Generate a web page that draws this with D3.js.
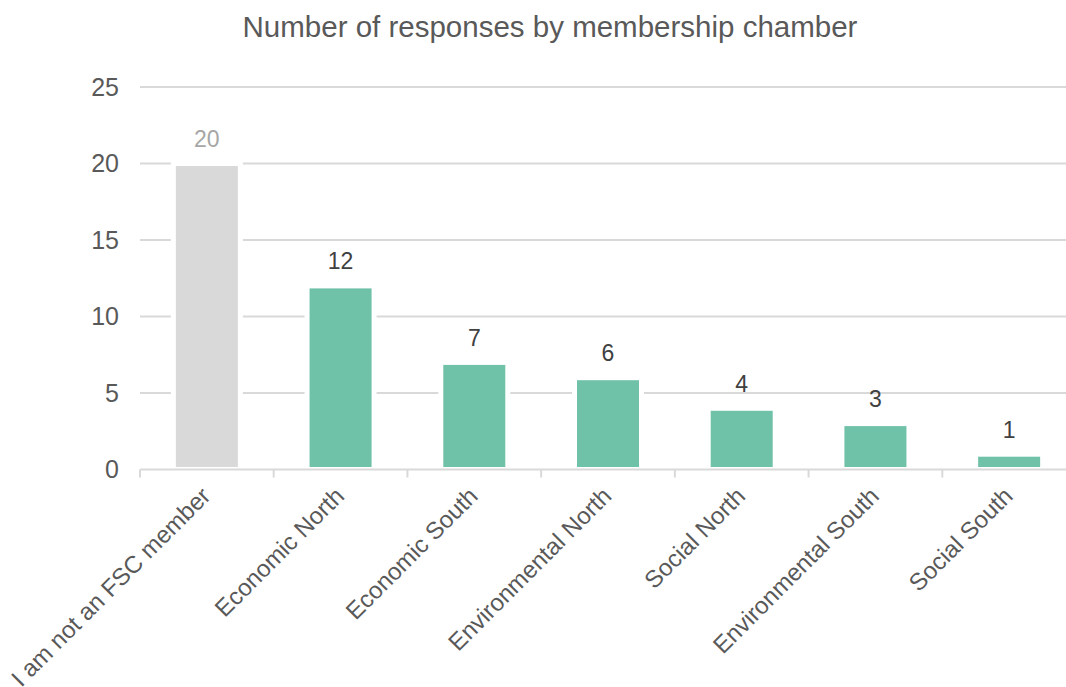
<!DOCTYPE html>
<html>
<head>
<meta charset="utf-8">
<script src="https://cdn.jsdelivr.net/npm/d3@7"></script>
<style>
  html, body { margin: 0; padding: 0; background: #fff; overflow: hidden; }
  svg { display: block; font-family: "Liberation Sans", Arial, sans-serif; }
</style>
</head>
<body>
<svg id="chart" width="1066" height="687"></svg>
<script>
// Responses per membership chamber
const categories = [
  "I am not an FSC member",
  "Economic North",
  "Economic South",
  "Environmental North",
  "Social North",
  "Environmental South",
  "Social South"
];
const responses = [20, 12, 7, 6, 4, 3, 1];
const yTicks = [0, 5, 10, 15, 20, 25];
const title = "Number of responses by membership chamber";

const colors = { nonMember: "#d9d9d9", member: "#6fc1a8", grid: "#d9d9d9" };

const svg = d3.select("#chart");

const x = d3.scaleBand()
  .domain(categories)
  .range([140, 1076])
  .paddingInner(0)
  .paddingOuter(0);

const y = d3.scaleLinear()
  .domain([0, 25])
  .range([469.5, 87]);

// Title
svg.append("text")
  .attr("x", 550)
  .attr("y", 36.5)
  .attr("text-anchor", "middle")
  .attr("font-size", 29.5)
  .attr("fill", "#595959")
  .text(title);

// Horizontal grid lines
svg.append("g")
  .selectAll("line")
  .data(yTicks.filter(t => t > 0))
  .join("line")
  .attr("x1", x.range()[0])
  .attr("x2", x.range()[1])
  .attr("y1", d => y(d))
  .attr("y2", d => y(d))
  .attr("stroke", colors.grid)
  .attr("stroke-width", 2);

// Y axis labels
const yAxis = d3.axisLeft(y).tickValues(yTicks).tickSize(0).tickPadding(21);
svg.append("g")
  .attr("transform", `translate(${x.range()[0]},0)`)
  .call(yAxis)
  .call(g => g.select(".domain").remove())
  .call(g => g.selectAll("text")
    .attr("font-size", 25)
    .attr("fill", "#595959")
    .attr("font-family", "Liberation Sans, Arial, sans-serif"));

// Bars
const barW = 67;
svg.append("g")
  .selectAll("rect")
  .data(responses)
  .join("rect")
  .attr("x", (d, i) => x(categories[i]) + x.bandwidth() / 2 - barW / 2)
  .attr("y", d => y(d))
  .attr("width", barW)
  .attr("height", d => y(0) - y(d))
  .attr("fill", (d, i) => i === 0 ? colors.nonMember : colors.member)
  .attr("stroke", "#fff")
  .attr("stroke-width", 5);

// Value labels
svg.append("g")
  .selectAll("text")
  .data(responses)
  .join("text")
  .attr("x", (d, i) => x(categories[i]) + x.bandwidth() / 2)
  .attr("y", d => y(d) - 16.5)
  .attr("text-anchor", "middle")
  .attr("font-size", 23)
  .attr("fill", (d, i) => i === 0 ? "#a6a6a6" : "#404040")
  .text(d => d);

// X axis with ticks between categories
const xAxisG = svg.append("g");
xAxisG.append("line")
  .attr("x1", x.range()[0])
  .attr("x2", x.range()[1])
  .attr("y1", y(0))
  .attr("y2", y(0))
  .attr("stroke", colors.grid)
  .attr("stroke-width", 2);
xAxisG.selectAll("line.tick")
  .data(categories)
  .join("line")
  .attr("class", "tick")
  .attr("x1", d => x(d))
  .attr("x2", d => x(d))
  .attr("y1", y(0))
  .attr("y2", y(0) + 8)
  .attr("stroke", colors.grid)
  .attr("stroke-width", 2);

// Category labels, rotated
xAxisG.selectAll("text")
  .data(categories)
  .join("text")
  .attr("transform", d => `translate(${x(d) + x.bandwidth() / 2 + 5},${y(0) + 28}) rotate(-45)`)
  .attr("text-anchor", "end")
  .attr("font-size", 24)
  .attr("fill", "#595959")
  .text(d => d);
</script>
</body>
</html>
